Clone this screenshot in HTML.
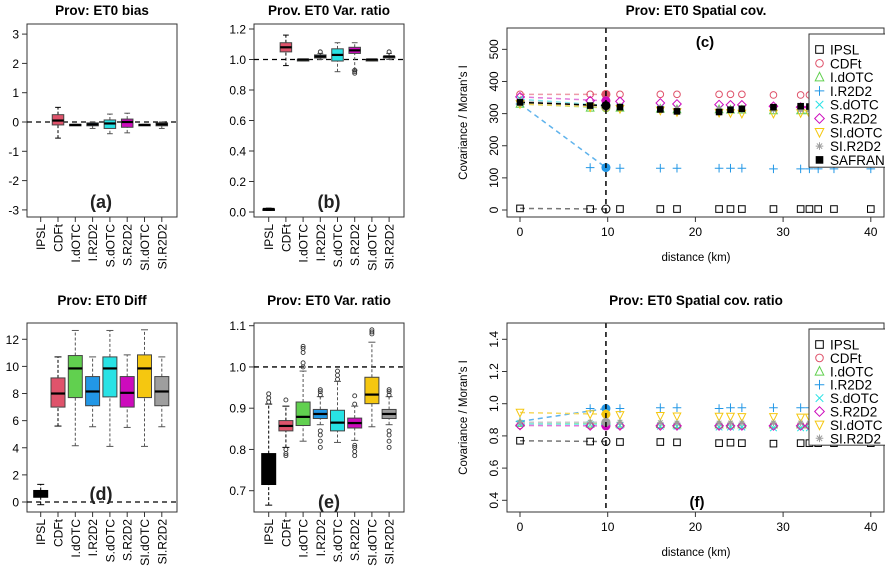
<!DOCTYPE html>
<html><head><meta charset="utf-8">
<style>
body{margin:0;background:#fff;}
svg{display:block;font-family:"Liberation Sans",Arial,sans-serif;}
</style></head>
<body>
<svg id="fig" width="885" height="567" viewBox="0 0 885 567" xmlns="http://www.w3.org/2000/svg"></svg>
<script>
// ---------- data ----------
const categories = ["IPSL","CDFt","I.dOTC","I.R2D2","S.dOTC","S.R2D2","SI.dOTC","SI.R2D2"];
const boxColors = ["#000000","#DF536B","#61D04F","#2297E6","#28E2E5","#CD0BBC","#F5C710","#9E9E9E"];
// [lowWhisker, q1, median, q3, highWhisker]
const biasStats = [null,[-0.55,-0.1,0.05,0.25,0.5],[-0.12,-0.12,-0.1,-0.08,-0.08],[-0.22,-0.13,-0.08,-0.03,0.0],[-0.4,-0.22,-0.05,0.07,0.27],[-0.37,-0.18,0,0.1,0.3],[-0.12,-0.12,-0.1,-0.08,-0.08],[-0.22,-0.13,-0.08,-0.03,0.0]];
const varStats = [[0.01,0.015,0.02,0.02,0.025],[0.96,1.05,1.08,1.11,1.16],[0.99,0.99,1.0,1.0,1.0],[1.0,1.01,1.02,1.03,1.04],[0.92,0.99,1.03,1.07,1.11],[0.93,1.04,1.06,1.08,1.11],[0.99,0.99,1.0,1.0,1.0],[1.0,1.01,1.02,1.02,1.04]];
const varOutliers = [[],[],[],[1.05],[],[0.91,0.92,0.93],[],[1.05]];
const diffStats = [[-0.2,0.35,0.6,0.85,1.3],[5.6,7.0,8.0,9.15,10.7],[4.15,7.7,9.85,10.8,12.65],[5.55,7.1,8.15,9.25,10.7],[4.1,7.75,9.85,10.7,12.65],[5.5,7.0,8.05,9.25,10.85],[4.1,7.7,9.85,10.85,12.7],[5.55,7.1,8.15,9.25,10.7]];
const var2Stats = [[0.665,0.715,0.75,0.79,0.91],[0.805,0.845,0.857,0.87,0.905],[0.82,0.858,0.879,0.915,0.99],[0.86,0.875,0.886,0.897,0.928],[0.817,0.845,0.865,0.895,0.965],[0.822,0.852,0.864,0.876,0.905],[0.855,0.911,0.933,0.975,1.06],[0.86,0.875,0.886,0.897,0.928]];
const var2Outliers = [[0.915,0.925,0.935],[0.785,0.79,0.8,0.92],[1.0,1.01,1.035,1.045,1.05],[0.805,0.82,0.835,0.845,0.932,0.94,0.945],[0.97,0.98,0.99],[0.785,0.795,0.805,0.81,0.91,0.93],[1.08,1.085,1.09],[0.805,0.82,0.835,0.845,0.932,0.94,0.945]];

const distances = [8,11.4,16,17.9,22.7,24,25.3,28.9,32,33,34,35.8,40];
const meanDist = 9.8;
const seriesNames = ["IPSL","CDFt","I.dOTC","I.R2D2","S.dOTC","S.R2D2","SI.dOTC","SI.R2D2","SAFRAN"];
const seriesColors = ["#000000","#DF536B","#61D04F","#2297E6","#28E2E5","#CD0BBC","#F5C710","#9E9E9E","#000000"];
const seriesPch = ["sq","ci","tr","pl","x","di","dt","st","fsq"];
// spatial covariance (c)
const covStart = [5,360,330,330,345,352,330,340,335];
const covMean = [3,360,318,132,325,340,320,322,325];
const covIPSL = [3,3,3,3,3,3,3,3,3,3,3,3,3];
const covCDFt = [360,360,360,360,360,360,360,358,358,358,358,358,358];
const covIdOTC = [318,318,315,313,313,312,312,310,310,310,310,310,310];
const covIR2D2 = [132,130,130,130,130,130,130,128,128,128,128,128,128];
const covSdOTC = [325,323,318,316,315,314,313,312,312,312,312,312,312];
const covSR2D2 = [340,338,333,330,328,327,327,323,320,320,320,320,320];
const covSIdOTC = [320,315,310,305,303,302,300,300,302,300,300,300,300];
const covSIR2D2 = [322,320,317,315,314,313,313,312,312,312,312,312,312];
const covSAFRAN = [325,320,313,307,305,312,315,320,323,322,322,322,322];
// spatial covariance ratio (f)
const ratStart = [0.77,0.865,0.88,0.89,0.875,0.865,0.945,0.885];
const ratMean = [0.765,0.865,0.875,0.97,0.87,0.862,0.935,0.885];
const ratIPSL = [0.765,0.762,0.762,0.76,0.755,0.758,0.755,0.752,0.755,0.755,0.755,0.755,0.755];
const ratCDFt = [0.865,0.865,0.865,0.865,0.865,0.865,0.865,0.865,0.865,0.865,0.865,0.865,0.865];
const ratIdOTC = [0.875,0.875,0.872,0.87,0.87,0.87,0.87,0.87,0.87,0.87,0.87,0.87,0.87];
const ratIR2D2 = [0.97,0.97,0.975,0.975,0.97,0.975,0.975,0.975,0.975,0.975,0.975,0.975,0.975];
const ratSdOTC = [0.87,0.865,0.86,0.86,0.855,0.855,0.855,0.85,0.85,0.85,0.85,0.85,0.85];
const ratSR2D2 = [0.862,0.862,0.862,0.862,0.862,0.862,0.862,0.862,0.862,0.862,0.862,0.862,0.862];
const ratSIdOTC = [0.935,0.93,0.925,0.922,0.92,0.92,0.918,0.918,0.915,0.915,0.915,0.915,0.915];
const ratSIR2D2 = [0.885,0.885,0.882,0.88,0.88,0.88,0.88,0.88,0.88,0.88,0.88,0.88,0.88];

const biasTicks = [-3,-2,-1,0,1,2,3];
const varTicks = [0,0.2,0.4,0.6,0.8,1.0,1.2];
const diffTicks = [0,2,4,6,8,10,12];
const var2Ticks = [0.7,0.8,0.9,1.0,1.1];
const distTicks = [0,10,20,30,40];
const covTicks = [0,100,200,300,400,500];
const ratTicks = [0.4,0.6,0.8,1.0,1.2,1.4];

// ---------- helpers ----------
const NS = "http://www.w3.org/2000/svg";
const svg = document.getElementById("fig");
function el(tag, attrs, parent, text){
  const e = document.createElementNS(NS, tag);
  for (const k in attrs) e.setAttribute(k, attrs[k]);
  if (text !== undefined) e.textContent = text;
  (parent || svg).appendChild(e);
  return e;
}
function fmt(v, d){ return d === undefined ? String(v) : v.toFixed(d); }

function frame(g, x0, y0, x1, y1){
  const r = el("rect", {x:x0, y:y0, width:x1-x0, height:y1-y0, fill:"none", stroke:"#333", "stroke-width":1}, g);
  
  
}

function boxPanel(cfg){
  const g = el("g", {});
  
  
  const y = v => cfg.yA - (v - cfg.vA) * cfg.k;
  const cx = i => cfg.cx0 + i * cfg.dx;
  const t = el("text", {x:(cfg.x0+cfg.x1)/2, y:cfg.titleY, "text-anchor":"middle", "font-size":13.5, "font-weight":"bold"}, g, cfg.title);
  
  
  frame(g, cfg.x0, cfg.y0, cfg.x1, cfg.y1);
  cfg.ticks.forEach(v => {
    el("line", {x1:cfg.x0-5, x2:cfg.x0, y1:y(v), y2:y(v), stroke:"#333"}, g);
    const tl = el("text", {x:cfg.x0-8, y:y(v)+4.5, "text-anchor":"end", "font-size":12}, g, fmt(v, cfg.dec));
    
    
  });
  el("line", {x1:cfg.x0, x2:cfg.x1, y1:y(cfg.ref), y2:y(cfg.ref), stroke:"#000", "stroke-width":1.3, "stroke-dasharray":"5,4"}, g);
  categories.forEach((c, i) => {
    el("line", {x1:cx(i), x2:cx(i), y1:cfg.y1, y2:cfg.y1+5, stroke:"#333"}, g);
    const lx = cx(i) + 4.5, ly = cfg.y1 + 7;
    const cl = el("text", {x:lx, y:ly, "text-anchor":"end", "font-size":12, transform:`rotate(-90 ${lx} ${ly})`}, g, c);
    
    
    const s = cfg.stats[i];
    if (!s) return;
    const w = cfg.bw, bx = cx(i) - w/2;
    const wc = i === 0 || i === 1 ? "#000" : "#555";
    el("line", {x1:cx(i), x2:cx(i), y1:y(s[0]), y2:y(s[1]), stroke:wc, "stroke-dasharray":"3,2"}, g);
    el("line", {x1:cx(i), x2:cx(i), y1:y(s[3]), y2:y(s[4]), stroke:wc, "stroke-dasharray":"3,2"}, g);
    el("line", {x1:cx(i)-w/4, x2:cx(i)+w/4, y1:y(s[0]), y2:y(s[0]), stroke:wc}, g);
    el("line", {x1:cx(i)-w/4, x2:cx(i)+w/4, y1:y(s[4]), y2:y(s[4]), stroke:wc}, g);
    const b = el("rect", {x:bx, y:y(s[3]), width:w, height:Math.max(1.5, y(s[1])-y(s[3])), fill:boxColors[i], stroke:i===0?"#000":"#444", "stroke-width":1}, g);
    
    
    el("line", {x1:bx, x2:bx+w, y1:y(s[2]), y2:y(s[2]), stroke:"#000", "stroke-width":2.2}, g);
    (cfg.out ? cfg.out[i] : []).forEach(o => {
      el("circle", {cx:cx(i), cy:y(o), r:2, fill:"none", stroke:"#333", "stroke-width":0.9}, g);
    });
  });
  const pl = el("text", {x:cfg.labX, y:cfg.labY, "text-anchor":"middle", "font-size":18, "font-weight":"bold", fill:"#222"}, g, cfg.lab);
  
  
}

function marker(g, type, x, y, color, big){
  const r = big ? 3.8 : 3.3;
  switch(type){
    case "sq": el("rect", {x:x-r, y:y-r, width:2*r, height:2*r, fill:"none", stroke:color, "stroke-width":1}, g); break;
    case "fsq": el("rect", {x:x-r, y:y-r, width:2*r, height:2*r, fill:color}, g); break;
    case "ci": el("circle", {cx:x, cy:y, r:r, fill:"none", stroke:color, "stroke-width":1}, g); break;
    case "tr": el("polygon", {points:`${x},${y-r-1} ${x-r-0.5},${y+r} ${x+r+0.5},${y+r}`, fill:"none", stroke:color}, g); break;
    case "dt": el("polygon", {points:`${x},${y+r+1} ${x-r-0.5},${y-r} ${x+r+0.5},${y-r}`, fill:"none", stroke:color}, g); break;
    case "pl": el("path", {d:`M${x-r-1},${y}H${x+r+1}M${x},${y-r-1}V${y+r+1}`, stroke:color, "stroke-width":1}, g); break;
    case "x": el("path", {d:`M${x-r},${y-r}L${x+r},${y+r}M${x-r},${y+r}L${x+r},${y-r}`, stroke:color}, g); break;
    case "di": el("polygon", {points:`${x},${y-r-1} ${x+r+1},${y} ${x},${y+r+1} ${x-r-1},${y}`, fill:"none", stroke:color}, g); break;
    case "st": el("path", {d:`M${x-r},${y}H${x+r}M${x},${y-r}V${y+r}M${x-r*0.7},${y-r*0.7}L${x+r*0.7},${y+r*0.7}M${x-r*0.7},${y+r*0.7}L${x+r*0.7},${y-r*0.7}`, stroke:color}, g); break;
  }
}

function scatterPanel(cfg){
  const g = el("g", {});
  
  
  const X = d => 520 + d * 8.77;
  const Y = v => cfg.yA - (v - cfg.vA) * cfg.k;
  const t = el("text", {x:696, y:cfg.titleY, "text-anchor":"middle", "font-size":13.5, "font-weight":"bold"}, g, cfg.title);
  
  
  distTicks.forEach(d => {
    el("line", {x1:X(d), x2:X(d), y1:cfg.y1, y2:cfg.y1+5, stroke:"#333"}, g);
    const tl = el("text", {x:X(d), y:cfg.y1+19, "text-anchor":"middle", "font-size":12}, g, String(d));
    
    
  });
  cfg.ticks.forEach(v => {
    el("line", {x1:cfg.x0-5, x2:cfg.x0, y1:Y(v), y2:Y(v), stroke:"#333"}, g);
    const lx = cfg.x0 - 9, ly = Y(v);
    const tl = el("text", {x:lx, y:ly, "text-anchor":"middle", "font-size":12, transform:`rotate(-90 ${lx} ${ly})`}, g, fmt(v, cfg.dec));
    
    
  });
  const xt = el("text", {x:696, y:cfg.y1+44, "text-anchor":"middle", "font-size":11.5}, g, "distance (km)");
  
  
  const ym = (cfg.y0 + cfg.y1)/2;
  const yt = el("text", {x:467, y:ym, "text-anchor":"middle", "font-size":11.5, transform:`rotate(-90 467 ${ym})`}, g, "Covariance / Moran's I");
  
  
  const lightC = ["#777","#EE9AA8","#9BE08F","#5FB3EC","#7FEDEE","#E07ADA","#F5D860","#C8C8C8","#000"];
  cfg.series.forEach((s, j) => {
    el("line", {x1:X(0), y1:Y(cfg.start[j]), x2:X(meanDist), y2:Y(cfg.mean[j]), stroke:lightC[j], "stroke-width":1.5, "stroke-dasharray":"5,4"}, g);
  });
  cfg.series.forEach((s, j) => {
    marker(g, seriesPch[j], X(0), Y(cfg.start[j]), seriesColors[j]);
    s.forEach((v, i) => marker(g, seriesPch[j], X(distances[i]), Y(v), seriesColors[j]));
  });
  cfg.series.forEach((s, j) => {
    if (j === 0) { el("circle", {cx:X(meanDist), cy:Y(cfg.mean[j]), r:4, fill:"none", stroke:"#000"}, g); return; }
    el("circle", {cx:X(meanDist), cy:Y(cfg.mean[j]), r:4.5, fill:seriesColors[j]}, g);
  });
  el("line", {x1:X(meanDist), x2:X(meanDist), y1:cfg.y0, y2:cfg.y1, stroke:"#000", "stroke-width":1.5, "stroke-dasharray":"5,4"}, g);
  frame(g, cfg.x0, cfg.y0, cfg.x1, cfg.y1);
  const n = cfg.series.length;
  const lg = el("g", {}, g);
  
  
  el("rect", {x:809, y:cfg.legY, width:90, height:cfg.legDy*n + 9, fill:"#fff", stroke:"#333"}, lg);
  for (let j = 0; j < n; j++){
    const ly = cfg.legY + 15.5 + j*cfg.legDy;
    marker(lg, seriesPch[j], 819.5, ly, seriesColors[j], true);
    const lt = el("text", {x:830, y:ly+5, "font-size":13.5}, lg, seriesNames[j]);
    
    
  }
  const pl = el("text", {x:cfg.labX, y:cfg.labY, "text-anchor":"middle", "font-size":15, "font-weight":"bold"}, g, cfg.lab);
  
  
}

// ---------- draw ----------
boxPanel({name:"panel-a-bias", title:"Prov: ET0 bias", titleY:15, x0:27, x1:177, y0:24, y1:217, yA:122, vA:0, k:29.3, ticks:biasTicks, ref:0, stats:biasStats, cx0:40.7, dx:17.3, bw:11.5, lab:"(a)", labX:101, labY:208});
boxPanel({name:"panel-b-var-ratio", title:"Prov. ET0 Var. ratio", titleY:15, x0:254, x1:404, y0:24, y1:217, yA:212, vA:0, k:152.5, ticks:varTicks, dec:1, ref:1, stats:varStats, out:varOutliers, cx0:268.7, dx:17.2, bw:11.5, lab:"(b)", labX:329, labY:208});
boxPanel({name:"panel-d-diff", title:"Prov: ET0 Diff", titleY:305, x0:27, x1:177, y0:323, y1:512, yA:502, vA:0, k:13.56, ticks:diffTicks, ref:0, stats:diffStats, cx0:40.7, dx:17.3, bw:14, lab:"(d)", labX:101, labY:500});
boxPanel({name:"panel-e-var-ratio", title:"Prov: ET0 Var. ratio", titleY:305, x0:254, x1:404, y0:323, y1:512, yA:490.7, vA:0.7, k:412.5, ticks:var2Ticks, dec:1, ref:1, stats:var2Stats, out:var2Outliers, cx0:268.7, dx:17.2, bw:14, lab:"(e)", labX:329, labY:508});
scatterPanel({name:"panel-c-spatial-cov", title:"Prov: ET0 Spatial cov.", titleY:15, x0:507, x1:884, y0:28, y1:217, yA:210, vA:0, k:0.3213, ticks:covTicks,
  series:[covIPSL,covCDFt,covIdOTC,covIR2D2,covSdOTC,covSR2D2,covSIdOTC,covSIR2D2,covSAFRAN], start:covStart, mean:covMean, legY:34, legDy:13.8, lab:"(c)", labX:705, labY:47});
scatterPanel({name:"panel-f-spatial-cov-ratio", title:"Prov: ET0 Spatial cov. ratio", titleY:305, x0:507, x1:884, y0:323, y1:512, yA:500.3, vA:0.4, k:161, ticks:ratTicks, dec:1,
  series:[ratIPSL,ratCDFt,ratIdOTC,ratIR2D2,ratSdOTC,ratSR2D2,ratSIdOTC,ratSIR2D2], start:ratStart, mean:ratMean, legY:329, legDy:13.4, lab:"(f)", labX:697, labY:507});
</script>
</body></html>
